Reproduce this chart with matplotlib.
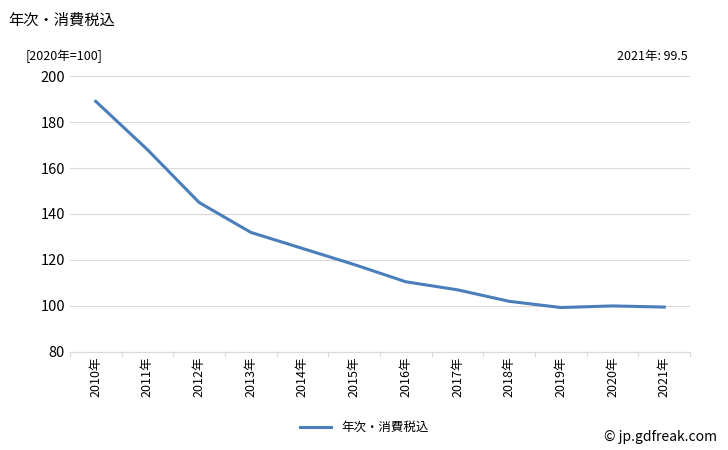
import matplotlib
matplotlib.use("Agg")
import matplotlib.pyplot as plt

plt.rcParams['font.family'] = ['Noto Sans CJK JP', 'DejaVu Sans']

years = ["2010年","2011年","2012年","2013年","2014年","2015年","2016年","2017年","2018年","2019年","2020年","2021年"]
values = [189, 168, 145, 132, 125, 118, 110.5, 107, 102, 99.3, 100, 99.5]
yticks = [80, 100, 120, 140, 160, 180, 200]

fig = plt.figure(figsize=(7.28, 4.5), dpi=100)
ax = fig.add_axes([0.096, 0.218, 0.852, 0.613])
x = list(range(len(years)))
ax.plot(x, values, color="#4a7ebb", lw=2.2, label="年次・消費税込")
ax.set_xlim(-0.5, len(years) - 0.5)
ax.set_ylim(80, 200)
ax.set_yticks(yticks)
ax.set_xticks(x)
ax.set_xticklabels(years, rotation=90, fontsize=9)
ax.tick_params(axis='y', labelsize=10.5, length=0)
ax.tick_params(axis='x', length=0)
ax.grid(axis='y', color="#d9d9d9", lw=0.8)
for s in ['top', 'right', 'left']:
    ax.spines[s].set_visible(False)
ax.spines['bottom'].set_color("#d9d9d9")
for xi in [i + 0.5 for i in range(-1, len(years))]:
    ax.plot([xi, xi], [80, 78], color="#d9d9d9", lw=0.8, clip_on=False)

fig.text(0.012, 0.955, "年次・消費税込", fontsize=11, va='center')
fig.text(0.035, 0.875, "[2020年=100]", fontsize=9, va='center')
fig.text(0.945, 0.875, "2021年: 99.5", fontsize=9, va='center', ha='right')
fig.text(0.985, 0.03, "© jp.gdfreak.com", fontsize=10, ha='right', va='center')
fig.legend(loc='center', bbox_to_anchor=(0.5, 0.05), frameon=False, fontsize=9, handlelength=2.5)

fig.savefig("out.png", dpi=100)
